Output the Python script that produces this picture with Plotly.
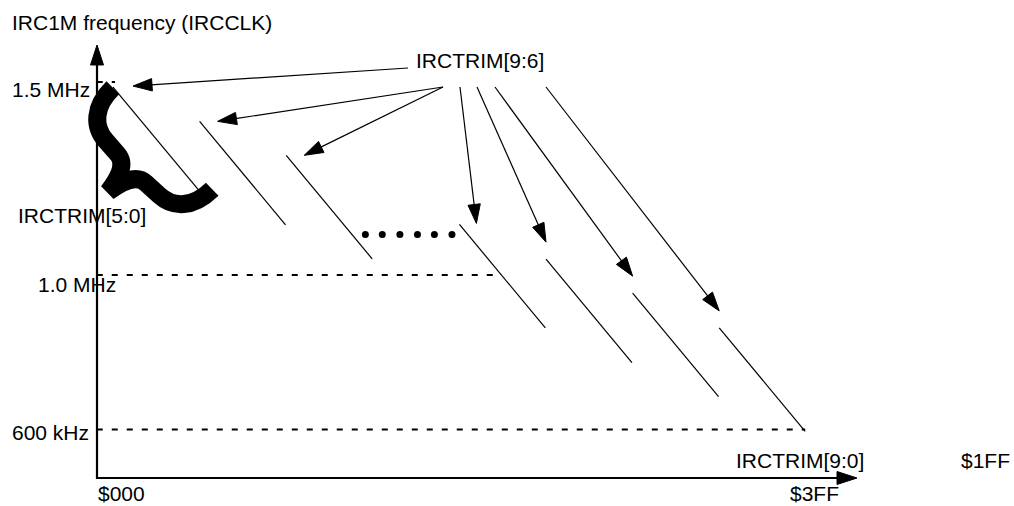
import math
import plotly.graph_objects as go

W, H = 1014, 506

# IRCTRIM[9:0] code vs IRCCLK frequency (kHz)
seg_code_start = [0, 128, 256, 512, 640, 768, 896]
seg_code_end = [127, 255, 383, 639, 767, 895, 1023]
seg_khz_start = [1487, 1398, 1310, 1131, 1041, 953, 863]
seg_khz_end = [1219, 1130, 1042, 863, 773, 685, 595]

dot_code = [373, 398, 424, 450, 475, 501]
dot_khz = [1105, 1105, 1105, 1105, 1105, 1105]

ref_khz = [1500, 1000, 600]
ref_code_start = [-24, -24, -24]
ref_code_end = [3, 565, 1023]

# pixel scale of the sketch
X0, KX = 113, 0.6766   # pixel of code $000, px per code
Y0, KY = 82, 0.386     # pixel of 1500 kHz, px per kHz


def px(code):
    return X0 + code * KX


def py(khz):
    return Y0 + (1500 - khz) * KY


def code_at(p):
    return (p - X0) / KX


def khz_at(p):
    return 1500 - (p - Y0) / KY


def paper(x, y):
    return x / W, 1 - y / H


FONT = dict(family="Liberation Sans, Arial", size=21, color="black")

fig = go.Figure()


def arrow(x, y, width, head):
    fig.add_trace(go.Scatter(x=x, y=y, mode="lines+markers",
                             line=dict(color="black", width=width),
                             marker=dict(symbol="arrow", size=[0, head], angleref="previous",
                                         color="black", opacity=1,
                                         line=dict(width=1, color="black")),
                             hoverinfo="skip"))


for cs, ce, fs, fe in zip(seg_code_start, seg_code_end, seg_khz_start, seg_khz_end):
    fig.add_trace(go.Scatter(x=[cs, ce], y=[fs, fe], mode="lines",
                             line=dict(color="black", width=1.2), hoverinfo="skip"))

for cs, ce, f in zip(ref_code_start, ref_code_end, ref_khz):
    fig.add_trace(go.Scatter(x=[cs, ce], y=[f, f], mode="lines",
                             line=dict(color="black", width=2, dash="6px,9px"), hoverinfo="skip"))

fig.add_trace(go.Scatter(x=dot_code, y=dot_khz, mode="markers",
                         marker=dict(color="black", size=7), hoverinfo="skip"))

# axes with arrow heads
arrow([code_at(97), code_at(97)], [khz_at(479), khz_at(45)], 2.2, 21)
arrow([code_at(96), code_at(857)], [khz_at(478), khz_at(478)], 2.2, 21)

# IRCTRIM[9:6] callout arrows: target segment, pixel shift of tip, tail pixel
callouts = [
    (0, (20, -1), (408, 68)),
    (1, (18, 0), (443, 87)),
    (2, (18, 0), (443, 87)),
    (3, (17, -1), (460, 87)),
    (4, (0, -17), (477, 87)),
    (5, (0, -17), (495, 87)),
    (6, (0, -17), (546, 87)),
]
for i, (dx, dy), tail in callouts:
    tip_x = px(seg_code_start[i]) + dx
    tip_y = py(seg_khz_start[i]) + dy
    arrow([code_at(tail[0]), code_at(tip_x)], [khz_at(tail[1]), khz_at(tip_y)], 1.2, 20)

annotations = []

# text labels (pixel centres)
labels = [
    ("IRC1M frequency (IRCCLK)", 142, 23),
    ("1.5 MHz", 51, 90),
    ("IRCTRIM[5:0]", 82, 215),
    ("1.0 MHz", 77, 284),
    ("600 kHz", 50, 432),
    ("$000", 121, 493),
    ("IRCTRIM[9:0]", 800, 460),
    ("$1FF", 985, 460),
    ("$3FF", 814, 493),
    ("IRCTRIM[9:6]", 480, 61),
]
for txt, x, y in labels:
    xp, yp = paper(x, y)
    annotations.append(dict(text=txt, x=xp, y=yp, xref="paper", yref="paper",
                            xanchor="center", yanchor="middle", showarrow=False, font=FONT))


# curly brace over the first segment
def brace_path():
    e1, e2 = (113, 88), (212, 189)
    mx, my = (e1[0] + e2[0]) / 2, (e1[1] + e2[1]) / 2
    L = math.hypot(e2[0] - e1[0], e2[1] - e1[1])
    ux, uy = (e2[0] - e1[0]) / L, (e2[1] - e1[1]) / L
    nx, ny = -uy, ux

    def pt(s, t):
        x, y = paper(mx + s * ux + t * nx, my + s * uy + t * ny)
        return f"{x:.5f},{y:.5f}"

    return (f"M{pt(-71, 0)} C{pt(-71, 27)} {pt(-57, 41)} {pt(-38, 42)} "
            f"L{pt(-20, 43)} C{pt(-6, 44)} {pt(-2, 62)} {pt(0, 76)} "
            f"C{pt(2, 62)} {pt(6, 44)} {pt(20, 43)} L{pt(38, 42)} "
            f"C{pt(57, 41)} {pt(71, 27)} {pt(71, 0)}")


fig.add_shape(type="path", path=brace_path(), xref="paper", yref="paper",
              line=dict(color="black", width=18))

fig.update_layout(
    width=W, height=H,
    margin=dict(l=0, r=0, t=0, b=0),
    paper_bgcolor="white", plot_bgcolor="white",
    showlegend=False,
    annotations=annotations,
    xaxis=dict(visible=False, range=[(0 - X0) / KX, (W - X0) / KX]),
    yaxis=dict(visible=False, range=[1500 - (H - Y0) / KY, 1500 + Y0 / KY]),
)

fig.write_html("out.html", config={"displayModeBar": False},
               post_script="document.body.style.margin='0';")
